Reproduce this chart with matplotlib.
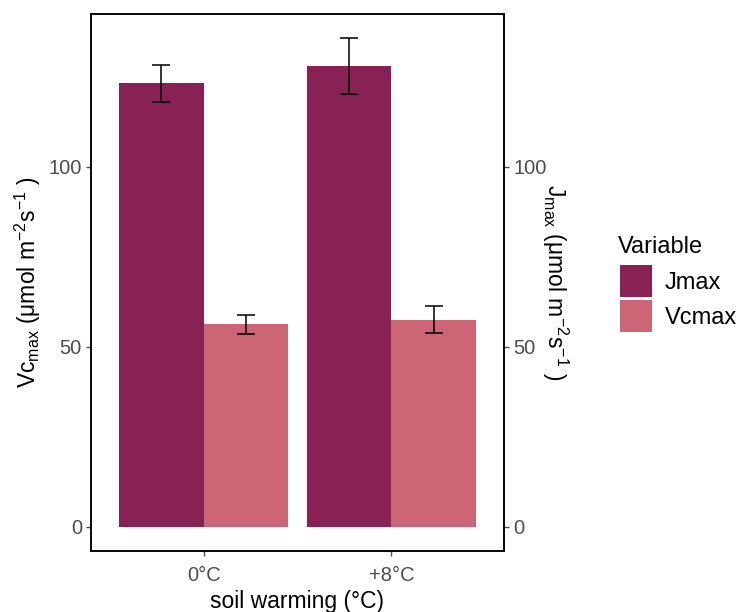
import matplotlib
matplotlib.use("Agg")
import matplotlib.pyplot as plt
import numpy as np
from matplotlib.patches import Patch

plt.rcParams['font.family'] = ['Liberation Sans', 'DejaVu Sans']
plt.rcParams['mathtext.fontset'] = 'custom'
plt.rcParams['mathtext.rm'] = 'Liberation Sans'
plt.rcParams['mathtext.it'] = 'Liberation Sans:italic'

categories = ['0°C', '+8°C']
variables = ['Jmax', 'Vcmax']
jmax = [123.3, 128.0]
jmax_lo = [118.0, 120.3]
jmax_hi = [128.3, 135.7]
vcmax = [56.2, 57.3]
vcmax_lo = [53.5, 53.7]
vcmax_hi = [58.7, 61.2]
colors = ['#882255', '#CC6677']
yticks = [0, 50, 100]

fig = plt.figure(figsize=(7.41, 6.12), dpi=100)
ax = fig.add_axes([91/741, 1-551/612, (504-91)/741, (551-14)/612])

x = np.arange(1, len(categories)+1)
w = 0.45
series = [(jmax, jmax_lo, jmax_hi), (vcmax, vcmax_lo, vcmax_hi)]
for i, (vals, lo, hi) in enumerate(series):
    xpos = x + (i - 0.5) * w
    ax.bar(xpos, vals, width=w, color=colors[i], edgecolor='none', label=variables[i])
    vals_a = np.array(vals); lo_a = np.array(lo); hi_a = np.array(hi)
    ax.errorbar(xpos, vals_a, yerr=[vals_a - lo_a, hi_a - vals_a], fmt='none',
                ecolor='black', elinewidth=1.1, capsize=6.5, capthick=1.1)

ax.set_xlim(0.4, 2.6)
ax.set_ylim(-6.8, 142.5)
ax.set_xticks(x)
ax.set_xticklabels(categories)
ax.set_yticks(yticks)
for s in ax.spines.values():
    s.set_color('black'); s.set_linewidth(1.1)
ax.tick_params(axis='both', colors='#4D4D4D', labelcolor='#4D4D4D', labelsize=14.5,
               length=3.5, width=1, pad=3)
ax.tick_params(axis='x', pad=7.5)

ax.set_xlabel('soil warming (°C)', fontsize=16.5, color='black', labelpad=3.5)
ax.set_ylabel(r'Vc$_{\mathrm{max}}$ (μmol m$^{-2}$s$^{-1}$ )', fontsize=16.5, color='black', labelpad=4)

ax2 = ax.twinx()
ax2.set_ylim(ax.get_ylim())
ax2.set_yticks(yticks)
ax2.tick_params(axis='y', colors='#4D4D4D', labelcolor='#4D4D4D', labelsize=14.5,
                length=3.5, width=1, pad=3)
for s in ax2.spines.values():
    s.set_color('black'); s.set_linewidth(1.1)
ax2.set_ylabel(r'J$_{\mathrm{max}}$ (μmol m$^{-2}$s$^{-1}$ )', fontsize=16.5, color='black',
               rotation=270, labelpad=17)

handles = [Patch(facecolor=c, edgecolor='none') for c in colors]
leg = fig.legend(handles, variables, loc='upper left',
                 bbox_to_anchor=(620/741, 1-265/612), frameon=False, fontsize=17,
                 handlelength=1.36, handleheight=1.71,
                 handletextpad=0.55, labelspacing=0.13,
                 borderaxespad=0, borderpad=0)
fig.text(618/741, 1-253/612, 'Variable', fontsize=17, color='black', ha='left', va='baseline')

fig.savefig('out.png', dpi=100)
